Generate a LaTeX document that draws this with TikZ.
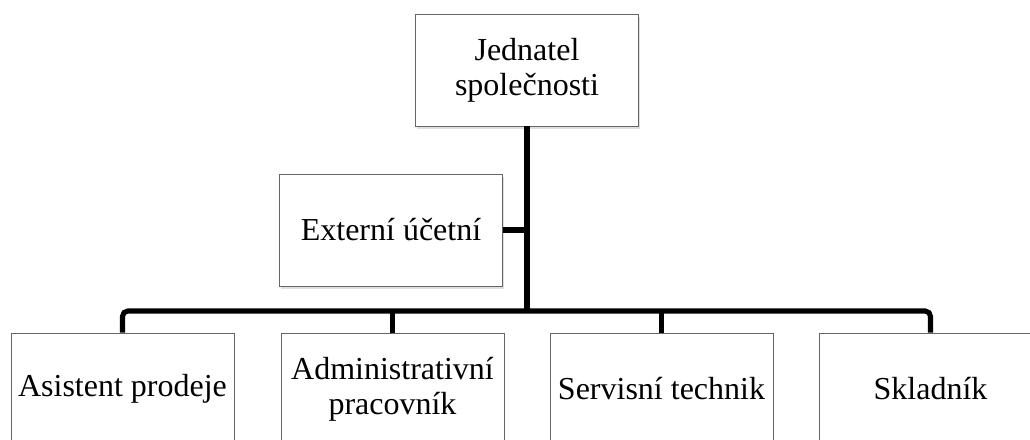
\documentclass[tikz,border=0pt]{standalone}
\usepackage{fontspec}
\setmainfont{Liberation Serif}
\usetikzlibrary{shadows}

\begin{document}
\begin{tikzpicture}[x=0.75pt, y=-0.75pt,
    unit/.style={draw=black!60, fill=white, line width=0.5pt, align=center,
      minimum width=167pt, minimum height=84pt, inner sep=2pt,
      font=\fontsize{24}{26}\selectfont,
      drop shadow={shadow xshift=1.2pt, shadow yshift=-2pt, fill=black!25}},
    link/.style={line width=3.8pt, line cap=butt}]
  \clip (0,0) rectangle (1030,439);
  \useasboundingbox (0,0) rectangle (1030,439);

  \node[unit] (jednatel) at (527,70) {Jednatel\\společnosti};
  \node[unit] (ucetni) at (391,230) {Externí účetní};
  \node[unit] (asistent) at (122.5,389) {Asistent prodeje};
  \node[unit] (admin) at (392.5,389) {Administrativní\\pracovník};
  \node[unit] (servis) at (661.5,389) {Servisní technik};
  \node[unit] (sklad) at (930.5,389) {Skladník};

  \coordinate (bus) at (527,311);

  \draw[link] (jednatel.south) -- (jednatel.south |- bus);
  \draw[link] (ucetni.east) -- (ucetni.east -| jednatel.south);
  \draw[link, rounded corners=4pt] (asistent.north) |- (bus) -| (sklad.north);
  \draw[link] (admin.north) -- (admin.north |- bus);
  \draw[link] (servis.north) -- (servis.north |- bus);
\end{tikzpicture}
\end{document}
